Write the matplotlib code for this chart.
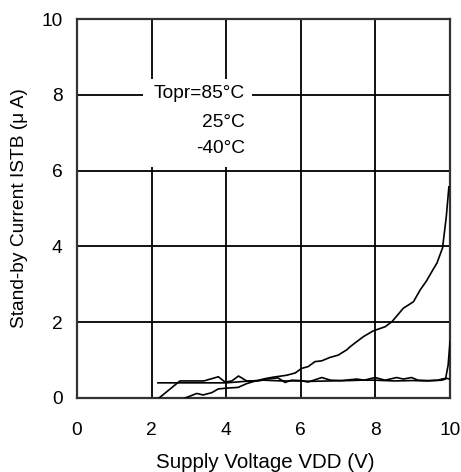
import matplotlib
matplotlib.use("Agg")
import matplotlib.pyplot as plt
from matplotlib.patches import Rectangle

plt.rcParams['font.family'] = ['Liberation Sans', 'DejaVu Sans']

# 85°C curve (exponential rise)
x85 = [2.9, 3.21, 3.38, 3.61, 3.79, 4.01, 4.32, 4.55, 4.72, 5.04, 5.26, 5.62, 5.85,
       6.02, 6.2, 6.38, 6.56, 6.78, 7.0, 7.23, 7.32, 7.41, 7.68, 7.94, 8.26, 8.44,
       8.75, 9.02, 9.2, 9.37, 9.54, 9.65, 9.8, 9.9, 9.97]
y85 = [0.0, 0.12, 0.08, 0.14, 0.24, 0.26, 0.28, 0.38, 0.43, 0.51, 0.55, 0.60, 0.66,
       0.78, 0.83, 0.96, 0.98, 1.07, 1.13, 1.27, 1.35, 1.42, 1.62, 1.77, 1.88, 2.01,
       2.37, 2.54, 2.85, 3.09, 3.38, 3.56, 3.96, 4.78, 5.57]

# 25°C curve
x25 = [2.2, 2.76, 3.0, 3.4, 3.79, 3.97, 4.15, 4.33, 4.55, 4.85, 5.08, 5.39, 5.58,
       5.75, 6.0, 6.19, 6.35, 6.56, 6.8, 7.1, 7.5, 7.7, 7.99, 8.26, 8.57, 8.75,
       8.97, 9.14, 9.4, 9.68, 9.78, 9.9, 10.0]
y25 = [0.0, 0.45, 0.45, 0.45, 0.56, 0.42, 0.45, 0.58, 0.45, 0.45, 0.50, 0.53, 0.41,
       0.47, 0.46, 0.42, 0.47, 0.54, 0.47, 0.46, 0.50, 0.47, 0.54, 0.47, 0.54, 0.50,
       0.54, 0.47, 0.46, 0.47, 0.50, 0.52, 0.50]

# -40°C curve
xm40 = [2.17, 2.5, 3.0, 3.5, 4.0, 4.64, 5.0, 5.5, 6.0, 6.3, 6.8, 7.3, 7.6, 8.0,
        8.5, 9.0, 9.4, 9.78, 9.88, 9.95, 10.0]
ym40 = [0.40, 0.40, 0.40, 0.40, 0.40, 0.45, 0.47, 0.45, 0.45, 0.44, 0.45, 0.46,
        0.47, 0.47, 0.45, 0.46, 0.45, 0.47, 0.50, 0.87, 1.48]

xticks = [0, 2, 4, 6, 8, 10]
yticks = [0, 2, 4, 6, 8, 10]
legend_labels = ["Topr=85°C", "25°C", "-40°C"]

FS = 13.8

fig = plt.figure(figsize=(4.61, 4.72), dpi=100)
ax = fig.add_axes([77/461, 1 - 398/472, 373/461, 379/472])

ax.set_xlim(0, 10)
ax.set_ylim(0, 10)
ax.set_xticks(xticks)
ax.set_yticks(yticks)
ax.tick_params(length=0, labelsize=FS, pad=10.5)
ax.tick_params(axis='x', pad=17)
ax.set_axisbelow(True)
ax.grid(True, color='black', lw=1.3)
for s in ax.spines.values():
    s.set_color('#333333')
    s.set_linewidth(1.6)

for xs, ys in [(x85, y85), (x25, y25), (xm40, ym40)]:
    ax.plot(xs, ys, color='black', lw=1.2, zorder=3)

# white label box covering the grid
ax.add_patch(Rectangle((1.77, 6.1), 2.92, 2.32, facecolor='white',
                       edgecolor='none', zorder=1))
label_y = [8.03, 7.27, 6.57]
for lab, yy in zip(legend_labels, label_y):
    ax.text(4.5, yy, lab, ha='right', va='center', fontsize=FS, zorder=4)

ax.set_xlabel("Supply Voltage VDD (V)", fontsize=14.8, va='center')
ax.xaxis.set_label_coords(0.505, -0.17)
ax.set_ylabel("Stand-by Current ISTB (μ A)", fontsize=FS, va='center')
ax.yaxis.set_label_coords(-0.153, 0.5)

fig.savefig("out.png", dpi=100)
